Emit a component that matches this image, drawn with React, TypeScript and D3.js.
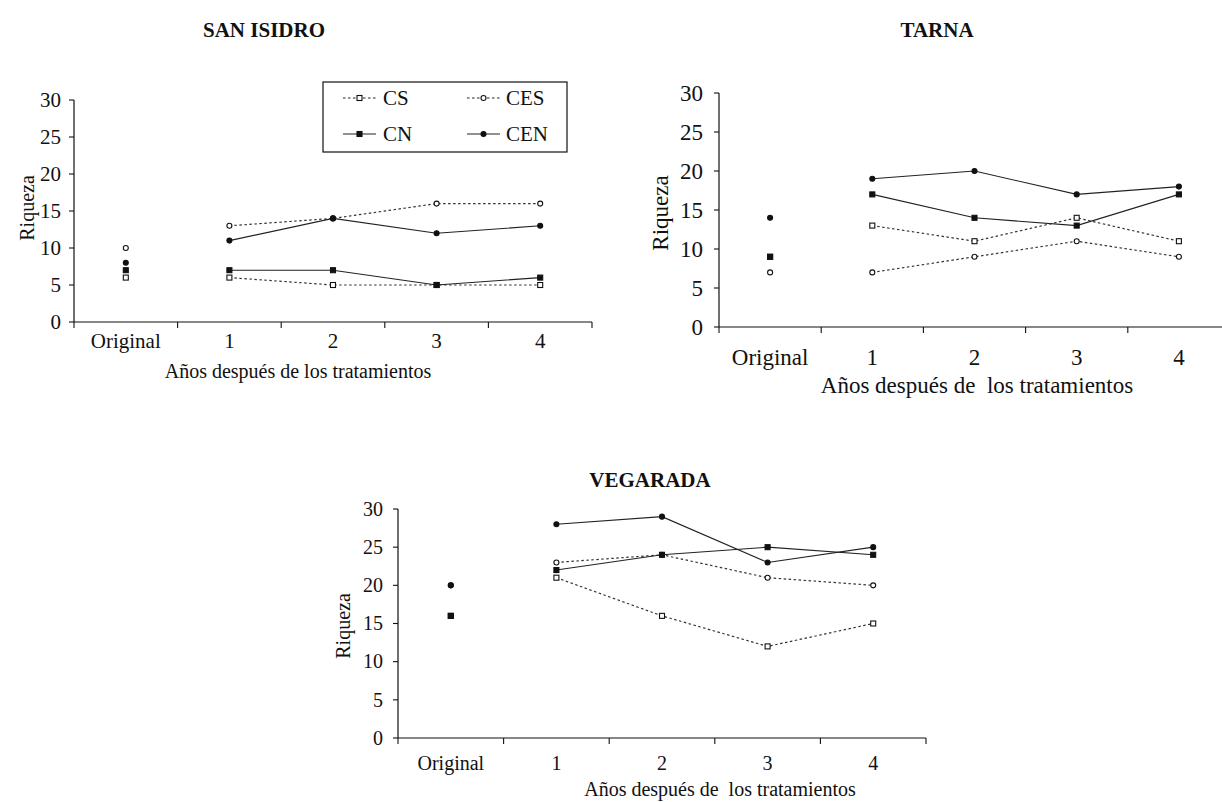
import React from 'react';
import * as d3 from 'd3';

const categories = ["Original", "1", "2", "3", "4"];
const yTicks = [0, 5, 10, 15, 20, 25, 30];

// San Isidro
const sanIsidroCS = [6, 6, 5, 5, 5];
const sanIsidroCES = [10, 13, 14, 16, 16];
const sanIsidroCN = [7, 7, 7, 5, 6];
const sanIsidroCEN = [8, 11, 14, 12, 13];
// Tarna
const tarnaCS = [9, 13, 11, 14, 11];
const tarnaCES = [7, 7, 9, 11, 9];
const tarnaCN = [9, 17, 14, 13, 17];
const tarnaCEN = [14, 19, 20, 17, 18];
// Vegarada
const vegaradaCS = [16, 21, 16, 12, 15];
const vegaradaCES = [20, 23, 24, 21, 20];
const vegaradaCN = [16, 22, 24, 25, 24];
const vegaradaCEN = [20, 28, 29, 23, 25];

type Style = { dashed: boolean; shape: 'square' | 'circle'; filled: boolean };
const styles: Record<string, Style> = {
  CS: { dashed: true, shape: 'square', filled: false },
  CES: { dashed: true, shape: 'circle', filled: false },
  CN: { dashed: false, shape: 'square', filled: true },
  CEN: { dashed: false, shape: 'circle', filled: true },
};

const FONT = '"Liberation Serif", "Times New Roman", Times, serif';

function Marker({ x, y, st, size = 5 }: { x: number; y: number; st: Style; size?: number }) {
  const fill = st.filled ? '#111' : '#fff';
  if (st.shape === 'square') {
    return <rect x={x - size / 2} y={y - size / 2} width={size} height={size} fill={fill} stroke="#111" strokeWidth={1.1} />;
  }
  return <circle cx={x} cy={y} r={size / 2} fill={fill} stroke="#111" strokeWidth={1.1} />;
}

type PanelProps = {
  title: string; titleX: number; titleY: number;
  left: number; right: number; top: number; bottom: number;
  data: Record<string, number[]>;
  tickFont: number; labelFont: number;
  yLabelEnd: number; xLabelY: number; axisTitleY: number; axisTitleX: number;
  riqX: number; riqY: number; axisTitle: string;
};

function Panel(p: PanelProps) {
  const x = d3.scaleBand<string>().domain(categories).range([p.left, p.right]).padding(0);
  const y = d3.scaleLinear().domain([0, 30]).range([p.bottom, p.top]);
  const cx = (c: string) => (x(c) as number) + x.bandwidth() / 2;
  const boundaries = categories.map(c => x(c) as number).concat([p.right]);
  const order = ["CS", "CES", "CN", "CEN"];
  const tf = { fontFamily: FONT };
  return (
    <g fill="#111">
      <text x={p.titleX} y={p.titleY} textAnchor="middle" fontWeight="bold" fontSize={21} style={tf}>{p.title}</text>
      <line x1={p.left} x2={p.left} y1={y(30)} y2={y(0)} stroke="#111" strokeWidth={1.2} />
      {yTicks.map(t => (
        <g key={t}>
          <line x1={p.left - 5} x2={p.left} y1={y(t)} y2={y(t)} stroke="#111" strokeWidth={1.1} />
          <text x={p.yLabelEnd} y={y(t)} dy="0.34em" textAnchor="end" fontSize={p.tickFont} style={tf}>{t}</text>
        </g>
      ))}
      <line x1={p.left} x2={p.right} y1={y(0)} y2={y(0)} stroke="#111" strokeWidth={1.2} />
      {boundaries.map((b, i) => (
        <line key={i} x1={b} x2={b} y1={y(0)} y2={y(0) + 6} stroke="#111" strokeWidth={1.1} />
      ))}
      {categories.map(c => (
        <text key={c} x={cx(c)} y={p.xLabelY} textAnchor="middle" fontSize={p.tickFont} style={tf}>{c}</text>
      ))}
      <text x={p.axisTitleX} y={p.axisTitleY} textAnchor="middle" fontSize={p.labelFont} style={{ ...tf, whiteSpace: 'pre' }}>{p.axisTitle}</text>
      <text transform={`translate(${p.riqX},${p.riqY}) rotate(-90)`} textAnchor="middle" dy="0.35em" fontSize={p.labelFont} style={tf}>Riqueza</text>
      {order.map(s => {
        const vals = p.data[s];
        const pts = categories.slice(1).map((c, i) => [cx(c), y(vals[i + 1])] as [number, number]);
        const line = d3.line();
        return (
          <path key={s} d={line(pts) || ''} fill="none" stroke={styles[s].dashed ? '#333' : '#222'}
            strokeWidth={styles[s].dashed ? 1.2 : 1.1} strokeDasharray={styles[s].dashed ? '2.5,2.5' : undefined} />
        );
      })}
      {order.map(s => p.data[s].map((v, i) => (
        <Marker key={s + i} x={cx(categories[i])} y={y(v)} st={styles[s]} />
      )))}
    </g>
  );
}

function Legend() {
  const rows = [
    { names: ["CS", "CES"], y: 98 },
    { names: ["CN", "CEN"], y: 134 },
  ];
  const cols = [{ lx1: 343, lx2: 376, tx: 383 }, { lx1: 467, lx2: 500, tx: 506 }];
  return (
    <g>
      <rect x={323} y={82} width={244} height={70} fill="#fff" stroke="#111" strokeWidth={1.2} />
      {rows.map(r => r.names.map((n, j) => {
        const st = styles[n];
        const c = cols[j];
        return (
          <g key={n}>
            <line x1={c.lx1} x2={c.lx2} y1={r.y} y2={r.y} stroke="#222" strokeWidth={1.1}
              strokeDasharray={st.dashed ? '2.5,2.5' : undefined} />
            <Marker x={(c.lx1 + c.lx2) / 2} y={r.y} st={st} />
            <text x={c.tx} y={r.y} dy="0.35em" fontSize={21} fill="#111" style={{ fontFamily: FONT }}>{n}</text>
          </g>
        );
      }))}
    </g>
  );
}

export default function App() {
  const si = { CS: sanIsidroCS, CES: sanIsidroCES, CN: sanIsidroCN, CEN: sanIsidroCEN };
  const ta = { CS: tarnaCS, CES: tarnaCES, CN: tarnaCN, CEN: tarnaCEN };
  const ve = { CS: vegaradaCS, CES: vegaradaCES, CN: vegaradaCN, CEN: vegaradaCEN };
  return (
    <svg width={1222} height={802} style={{ position: 'absolute', left: 0, top: 0, background: '#fff', fontFamily: FONT }}>
      <rect x={0} y={0} width={1222} height={802} fill="#fff" />
      <Panel title="SAN ISIDRO" titleX={264} titleY={37} left={74} right={592} top={100} bottom={322}
        data={si} tickFont={21} labelFont={20} yLabelEnd={61} xLabelY={348} axisTitleY={378} axisTitleX={298}
        riqX={27} riqY={208} axisTitle="Años después de los tratamientos" />
      <Legend />
      <Panel title="TARNA" titleX={937} titleY={37} left={719} right={1230} top={93} bottom={327}
        data={ta} tickFont={23} labelFont={23} yLabelEnd={703} xLabelY={365} axisTitleY={393} axisTitleX={977}
        riqX={660} riqY={213} axisTitle="Años después de  los tratamientos" />
      <Panel title="VEGARADA" titleX={650} titleY={487} left={398} right={926} top={509} bottom={738}
        data={ve} tickFont={20} labelFont={20} yLabelEnd={383} xLabelY={770} axisTitleY={796} axisTitleX={720}
        riqX={343} riqY={626} axisTitle="Años después de  los tratamientos" />
    </svg>
  );
}
